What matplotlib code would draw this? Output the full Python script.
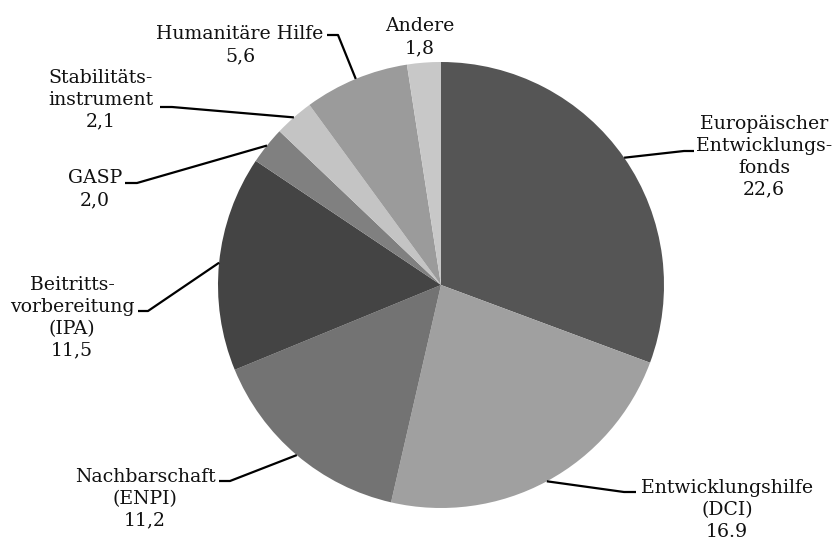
import numpy as np
import matplotlib
matplotlib.use('Agg')
import matplotlib.pyplot as plt

# Mittelverteilung (Mrd. EUR)
labels = ['Europäischer\nEntwicklungs-\nfonds', 'Entwicklungshilfe\n(DCI)', 'Nachbarschaft\n(ENPI)',
          'Beitritts-\nvorbereitung\n(IPA)', 'GASP', 'Stabilitäts-\ninstrument', 'Humanitäre Hilfe', 'Andere']
values = [22.6, 16.9, 11.2, 11.5, 2.0, 2.1, 5.6, 1.8]
value_texts = ['22,6', '16.9', '11,2', '11,5', '2,0', '2,1', '5,6', '1,8']
colors = ['#555555', '#a0a0a0', '#737373', '#444444', '#808080', '#c4c4c4', '#9b9b9b', '#c8c8c8']

# Layout in Pixeln (y nach unten)
center = (441, 285)
radius = 223
text_pos = [(764, 157), (727, 510), (145, 499), (72, 318), (95, 189), (101, 100), (240, 45), (420, 37)]
# Knick der Linie und Ende des waagrechten Stuecks (None = keine Linie)
elbows = [((684, 151), (694, 151)), ((624, 492), (636, 492)), ((230, 481), (219, 481)),
          ((148, 311), (138, 311)), ((137, 183), (125, 183)), ((172, 107), (160, 107)),
          ((338, 35), (327, 35)), None]

fig = plt.figure(figsize=(8.36, 5.40), dpi=100)
ax = fig.add_axes([0, 0, 1, 1])

wedges, _ = ax.pie(values, colors=colors, startangle=-90, counterclock=True,
                   center=center, radius=radius, wedgeprops=dict(linewidth=0))
ax.set_xlim(0, 836)
ax.set_ylim(540, 0)
ax.set_aspect('equal')
ax.axis('off')

for i, w in enumerate(wedges):
    txt = labels[i] + '\n' + value_texts[i]
    ax.text(text_pos[i][0], text_pos[i][1], txt, ha='center', va='center',
            multialignment='center', fontsize=13.6, family='DejaVu Serif',
            linespacing=1.27, color='#111111')
    if elbows[i] is None:
        continue
    mid = np.deg2rad((w.theta1 + w.theta2) / 2)
    x0 = center[0] + radius * np.cos(mid)
    y0 = center[1] + radius * np.sin(mid)
    (x1, y1), (x2, y2) = elbows[i]
    ax.plot([x0, x1, x2], [y0, y1, y2], color='black', lw=1.6, solid_capstyle='butt')

fig.savefig('out.png', dpi=100)
